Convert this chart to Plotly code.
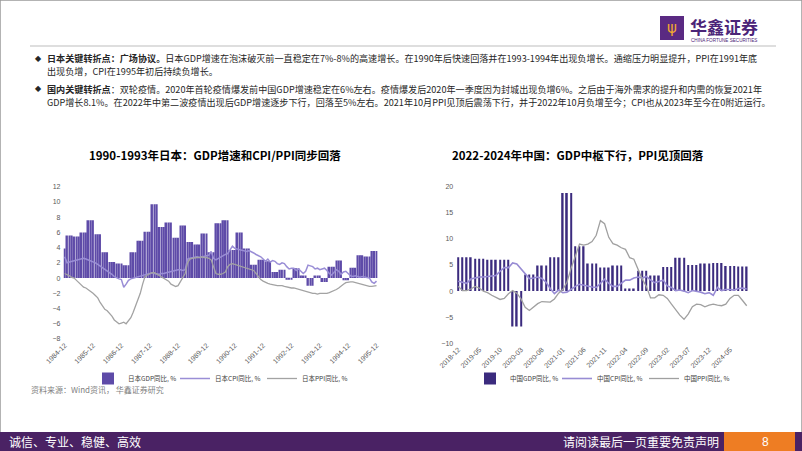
import plotly.graph_objects as go
import pandas as pd

# ---------------- Japan (monthly, 1984-12 .. 1995-12) ----------------
jp_tick_labels = ["1984-12", "1985-12", "1986-12", "1987-12", "1988-12", "1989-12",
                  "1990-12", "1991-12", "1992-12", "1993-12", "1994-12", "1995-12"]
# quarterly GDP YoY: 1984Q4, then 1985Q1 .. 1995Q4
jp_gdp_q = [3.9,
            5.6, 5.45, 6.0, 7.6,
            5.75, 3.4, 2.1, 1.9,
            1.7, 3.4, 4.9, 6.1,
            9.7, 6.7, 7.3, 5.3,
            6.9, 4.75, 4.4, 5.85,
            3.4, 7.2, 7.6, 3.7,
            6.0, 3.9, 1.75, 2.4,
            2.2, 0.8, 1.1, -0.1,
            1.3, 0.35, -1.0, 0.35,
            -0.5, 1.5, 2.3, -0.3,
            1.35, 3.0, 2.85, 3.55]
jp_cpi = [2.8,
          2.0, 2.1, 2.2, 2.3, 2.4, 2.5, 2.5, 2.6, 2.5, 2.4, 2.3, 2.2,
          2.0, 1.8, 1.6, 1.3, 1.1, 0.9, 0.7, 0.5, 0.2, 0.0, -0.1, -0.2,
          -1.2, -0.8, -0.3, -0.1, 0.0, 0.1, 0.2, 0.3, 0.4, 0.5, 0.6, 0.7,
          0.7, 0.6, 0.5, 0.5, 0.6, 0.6, 0.7, 0.8, 0.8, 0.9, 1.0, 1.1,
          1.1, 1.0, 1.1, 2.5, 2.6, 2.7, 2.8, 2.8, 2.7, 2.8, 2.9, 3.0,
          3.0, 3.5, 2.6, 2.4, 2.6, 2.8, 2.9, 3.1, 3.2, 3.8, 4.2, 3.9,
          3.8, 3.7, 3.6, 3.6, 3.5, 3.6, 3.5, 3.3, 3.1, 3.0, 2.8, 2.5,
          2.2, 2.5, 2.1, 2.3, 2.2, 1.9, 1.8, 2.0, 1.9, 1.5, 1.2, 1.3,
          1.3, 1.0, 1.2, 0.9, 0.6, 0.9, 1.7, 1.6, 1.5, 1.2, 1.3, 1.1,
          1.2, 1.3, 1.0, 0.6, 0.4, 0.8, 1.1, 0.9, 0.5, 0.8, 0.9, 0.6,
          0.3, 0.2, 0.3, 0.2, 0.1, 0.2, 0.1, 0.1, 0.0, -0.5, -0.7, -0.4]
jp_ppi = [0.6,
          0.5, 0.3, 0.1, 0.0, -0.3, -0.6, -0.9, -1.2, -1.3, -1.5, -1.7, -2.0,
          -2.3, -2.6, -3.2, -3.7, -4.1, -4.3, -4.6, -5.0, -5.5, -5.8, -6.0, -5.9,
          -5.8, -6.0, -5.6, -5.2, -4.5, -3.7, -3.0, -2.0, -0.8, 0.2, 0.4, 0.6,
          0.7, 0.7, 0.5, 0.4, 0.1, 0.0, -0.2, -0.4, -0.8, -1.0, -1.1, -1.0,
          -0.5, 0.0, 0.6, 2.0, 2.5, 2.6, 2.7, 2.7, 2.7, 2.8, 2.7, 2.7,
          2.6, 2.4, 1.5, 0.6, 0.5, 0.5, 0.6, 0.8, 1.5, 1.8, 1.9, 1.8,
          1.8, 1.7, 1.6, 1.5, 1.4, 1.3, 1.2, 1.0, 0.6, 0.2, -0.2, -0.4,
          -0.6, -0.7, -0.8, -0.9, -0.9, -1.0, -1.0, -1.0, -1.1, -1.2, -1.2, -1.3,
          -1.3, -1.4, -1.5, -1.6, -1.6, -1.7, -1.8, -1.9, -2.0, -2.0, -2.1, -2.0,
          -2.0, -2.0, -2.0, -1.9, -1.8, -1.6, -1.5, -1.3, -1.0, -0.8, -0.6, -0.5,
          -0.5, -0.5, -0.6, -0.6, -0.7, -0.8, -0.9, -1.0, -1.1, -1.1, -1.0, -1.0]

# ---------------- China (monthly, 2018-12 .. 2024-09) ----------------
cn_tick_labels = ["2018-12", "2019-05", "2019-10", "2020-03", "2020-08", "2021-01", "2021-06",
                  "2021-11", "2022-04", "2022-09", "2023-02", "2023-07", "2023-12", "2024-05"]
# quarterly GDP YoY: 2018Q4, then 2019Q1 .. 2024Q3
cn_gdp_q = [6.5,
            6.5, 6.2, 6.0, 6.0,
            -6.8, 3.2, 4.9, 6.5,
            18.8, 8.6, 5.3, 4.5,
            4.9, 0.5, 3.9, 3.0,
            4.6, 6.4, 5.0, 5.3,
            5.4, 4.8, 4.7]
cn_cpi = [1.9,
          1.7, 1.5, 2.3, 2.5, 2.7, 2.7, 2.8, 2.8, 3.0, 3.8, 4.5, 4.5,
          5.4, 5.2, 4.3, 3.3, 2.4, 2.5, 2.7, 2.4, 1.7, 0.5, -0.5, 0.2,
          -0.3, -0.2, 0.4, 0.9, 1.3, 1.1, 1.0, 0.8, 0.7, 1.5, 2.3, 1.5,
          0.9, 0.9, 1.5, 2.1, 2.1, 2.5, 2.7, 2.5, 2.8, 2.1, 1.6, 1.8,
          2.1, 1.0, 0.7, 0.1, 0.2, 0.0, -0.3, 0.1, 0.0, -0.2, -0.5, -0.3,
          -0.8, 0.7, 0.1, 0.3, 0.3, 0.2, 0.5, 0.6, 0.4]
cn_ppi = [0.9,
          0.1, 0.1, 0.4, 0.9, 0.6, 0.0, -0.3, -0.8, -1.2, -1.6, -1.4, -0.5,
          0.1, -0.4, -1.5, -3.1, -3.7, -3.0, -2.4, -2.0, -2.1, -2.1, -1.5, -0.4,
          0.3, 1.7, 4.4, 6.8, 9.0, 8.8, 9.0, 9.5, 10.7, 13.5, 12.9, 10.3,
          9.1, 8.8, 8.3, 8.0, 6.4, 6.1, 4.2, 2.3, 0.9, -1.3, -1.3, -0.7,
          -0.8, -1.4, -2.5, -3.6, -4.6, -5.4, -4.4, -3.0, -2.5, -2.6, -3.0, -2.7,
          -2.5, -2.7, -2.8, -2.5, -1.4, -0.8, -0.8, -1.8, -2.8]

# month categories
jp_months = [str(p) for p in pd.period_range("1984-12", "1995-12", freq="M")]
cn_months = [str(p) for p in pd.period_range("2018-12", "2024-09", freq="M")]
# quarterly GDP shown on each month of its quarter
jp_gdp = [jp_gdp_q[0]] + [v for v in jp_gdp_q[1:] for _ in range(3)]
cn_gdp = [cn_gdp_q[0]] + [v for v in cn_gdp_q[1:] for _ in range(3)]

W, H = 802, 451
def px(x):
    return x / W
def py(y):
    return 1 - y / H

CJK = "Noto Sans CJK SC"
LAT = "Liberation Sans, Arial, sans-serif"

fig = go.Figure()
fig.add_trace(go.Bar(x=jp_months, y=jp_gdp, name="日本GDP同比, %", marker=dict(color="#5E4BA8", line=dict(width=0)),
                     xaxis="x", yaxis="y", legend="legend"))
fig.add_trace(go.Scatter(x=jp_months, y=jp_cpi, name="日本CPI同比, %", mode="lines",
                         line=dict(color="#9A8ED6", width=1.5), xaxis="x", yaxis="y", legend="legend"))
fig.add_trace(go.Scatter(x=jp_months, y=jp_ppi, name="日本PPI同比, %", mode="lines",
                         line=dict(color="#A3A3A3", width=1.3), xaxis="x", yaxis="y", legend="legend"))
fig.add_trace(go.Bar(x=cn_months, y=cn_gdp, name="中国GDP同比, %", marker=dict(color="#3B2B7E", line=dict(width=0)),
                     width=0.38, xaxis="x2", yaxis="y2", legend="legend2"))
fig.add_trace(go.Scatter(x=cn_months, y=cn_cpi, name="中国CPI同比, %", mode="lines",
                         line=dict(color="#988CD4", width=1.6), xaxis="x2", yaxis="y2", legend="legend2"))
fig.add_trace(go.Scatter(x=cn_months, y=cn_ppi, name="中国PPI同比, %", mode="lines",
                         line=dict(color="#A0A0A0", width=1.3), xaxis="x2", yaxis="y2", legend="legend2"))

tickfont = dict(family=LAT, size=7, color="#595959")
axis_common = dict(showgrid=False, zeroline=False, showline=False, ticks="", fixedrange=True)

legend_common = dict(orientation="h", xanchor="left", yanchor="top", bgcolor="rgba(0,0,0,0)",
                     font=dict(family=CJK, size=6.5, color="#404040"), itemwidth=30,
                     entrywidth=42, entrywidthmode="pixels", tracegroupgap=0)

fig.update_layout(
    width=W, height=H, margin=dict(l=0, r=0, t=0, b=0),
    paper_bgcolor="white", plot_bgcolor="white",
    bargap=0.28,
    showlegend=True,
    xaxis=dict(domain=[px(63.5), px(377.7)], anchor="y", type="category", tickmode="array",
               tickvals=jp_tick_labels, ticktext=jp_tick_labels, tickangle=-45, tickfont=tickfont,
               range=[-0.5, len(jp_months) - 0.5], automargin=False, **axis_common),
    yaxis=dict(domain=[py(339), py(186.7)], anchor="x", range=[-8, 12], dtick=2, tickfont=tickfont,
               ticklabelstandoff=2, automargin=False, **axis_common),
    xaxis2=dict(domain=[px(456.2), px(748.8)], anchor="y2", type="category", tickmode="array",
                tickvals=cn_tick_labels, ticktext=cn_tick_labels, tickangle=-45, tickfont=tickfont,
                range=[-0.5, len(cn_months) - 0.5], automargin=False, **axis_common),
    yaxis2=dict(domain=[py(343.3), py(186.7)], anchor="x2", range=[-10, 20], dtick=5, tickfont=tickfont,
                ticklabelstandoff=2, automargin=False, **axis_common),
    legend=dict(x=px(88), y=py(364), **legend_common),
    legend2=dict(x=px(470), y=py(364), **legend_common),
)


def note(text, x, y, xa="left", ya="middle", font=None):
    return dict(text=text, x=px(x), y=py(y), xref="paper", yref="paper", xanchor=xa, yanchor=ya,
                showarrow=False, font=font, borderpad=0)


shapes = []
annotations = []

# outer frame
shapes.append(dict(type="rect", xref="paper", yref="paper", x0=0, x1=1, y0=0, y1=1,
                   line=dict(color="#9A9A9A", width=1.5), fillcolor="rgba(0,0,0,0)"))
# logo
shapes.append(dict(type="rect", xref="paper", yref="paper", x0=px(660), x1=px(684), y0=py(40), y1=py(16),
                   line=dict(width=0), fillcolor="#5A2A82"))
annotations.append(note("ψ", 672, 28, "center", "middle", dict(family="DejaVu Sans", size=15, color="#F0A830")))
annotations.append(note("<b>华鑫证券</b>", 689, 27, "left", "middle", dict(family=CJK, size=17, color="#4B2478")))
annotations.append(note("CHINA FORTUNE SECURITIES", 690, 40, "left", "middle",
                        dict(family=LAT, size=4.6, color="#4B2478")))
# header separator
shapes.append(dict(type="line", xref="paper", yref="paper", x0=px(30), x1=px(776), y0=py(46), y1=py(46),
                   line=dict(color="#BDBDBD", width=1)))

# bullet paragraphs
body_font = dict(family=CJK, size=9.1, color="#262626")
lines = [
    (58, "<b>日本关键转折点：广场协议。</b>日本GDP增速在泡沫破灭前一直稳定在7%-8%的高速增长。在1990年后快速回落并在1993-1994年出现负增长。通缩压力明显提升，PPI在1991年底"),
    (71, "出现负增，CPI在1995年初后持续负增长。"),
    (89, "<b>国内关键转折点</b>：双轮疫情。2020年首轮疫情爆发前中国GDP增速稳定在6%左右。疫情爆发后2020年一季度因为封城出现负增6%。之后由于海外需求的提升和内需的恢复2021年"),
    (102, "GDP增长8.1%。在2022年中第二波疫情出现后GDP增速逐步下行，回落至5%左右。2021年10月PPI见顶后震荡下行，并于2022年10月负增至今；CPI也从2023年至今在0附近运行。"),
]
for yy, t in lines:
    annotations.append(note(t, 46, yy, "left", "middle", body_font))
for yy in (58, 89):
    annotations.append(note("◆", 34, yy, "left", "middle", dict(family="DejaVu Sans", size=8, color="#262626")))

# chart titles
title_font = dict(family=CJK, size=11.5, color="#000000")
annotations.append(note("<b>1990-1993年日本：GDP增速和CPI/PPI同步回落</b>", 215, 155, "center", "middle", title_font))
annotations.append(note("<b>2022-2024年中国：GDP中枢下行，PPI见顶回落</b>", 578, 155, "center", "middle", title_font))

# source
annotations.append(note("资料来源：Wind资讯， 华鑫证券研究", 30, 389, "left", "middle",
                        dict(family=CJK, size=8, color="#7F7F7F")))

# footer
shapes.append(dict(type="rect", xref="paper", yref="paper", x0=0, x1=1, y0=0, y1=py(432),
                   line=dict(width=0), fillcolor="#4A2264"))
shapes.append(dict(type="rect", xref="paper", yref="paper", x0=px(724), x1=px(795), y0=0, y1=py(432),
                   line=dict(width=0), fillcolor="#EE7D23"))
annotations.append(note("诚信、专业、稳健、高效", 8, 441.5, "left", "middle", dict(family=CJK, size=12, color="white")))
annotations.append(note("请阅读最后一页重要免责声明", 720, 441.5, "right", "middle", dict(family=CJK, size=12, color="white")))
annotations.append(note("8", 765, 441.5, "center", "middle", dict(family=LAT, size=12, color="white")))

fig.update_layout(shapes=shapes, annotations=annotations)
fig.write_html("out.html", config={"displayModeBar": False},
               post_script="document.body.style.margin='0';")
